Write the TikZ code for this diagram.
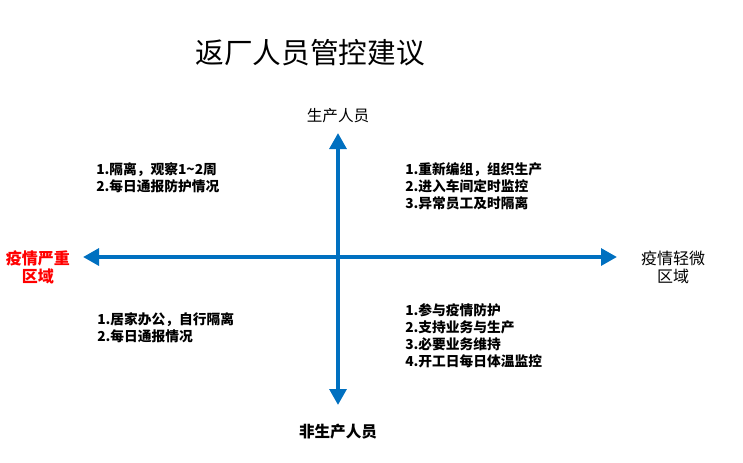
\documentclass[tikz,border=0pt]{standalone}
\usepackage{fontspec}
\setmainfont{Noto Sans CJK SC}
\usetikzlibrary{arrows.meta}
\definecolor{axisblue}{HTML}{0070C0}
\definecolor{warnred}{HTML}{FF0000}
\begin{document}
\begin{tikzpicture}[x=0.75pt,y=-0.75pt,
  axis/.style={draw=axisblue,line width=3.2pt,-{Triangle[length=12pt,width=12.5pt]}},
  blocktext/.style={font=\fontsize{10.3pt}{12.75pt}\selectfont\bfseries,align=left,anchor=north west,inner sep=0pt},
  axislabel/.style={font=\fontsize{11.7pt}{13.5pt}\selectfont,inner sep=0pt,align=center}]
\useasboundingbox (0,0) rectangle (743,462);
\fill[white] (0,0) rectangle (743,462);
\node[inner sep=0pt,font=\fontsize{21.5pt}{24pt}\selectfont] (title) at (310,53) {返厂人员管控建议};
\coordinate (center) at (338,257);
\coordinate (top) at (338,133);
\coordinate (bottom) at (338,405);
\coordinate (left) at (83,257);
\coordinate (right) at (617,257);
\draw[axis] (center) -- (top);
\draw[axis] (center) -- (bottom);
\draw[axis] (center) -- (left);
\draw[axis] (center) -- (right);
\node[axislabel] (prod) at (338,116) {生产人员};
\node[axislabel,font=\fontsize{11.7pt}{13.5pt}\selectfont\bfseries] (nonprod) at (338,432) {非生产人员};
\node[axislabel,text=warnred,font=\fontsize{12pt}{13.5pt}\selectfont\bfseries] (severe) at (38,267) {疫情严重\\区域};
\node[axislabel,font=\fontsize{12pt}{13.5pt}\selectfont] (mild) at (673,267) {疫情轻微\\区域};
\node[blocktext] (tl) at (96,162) {1.隔离，观察1\textasciitilde 2周\\2.每日通报防护情况};
\node[blocktext] (tr) at (405,162) {1.重新编组，组织生产\\2.进入车间定时监控\\3.异常员工及时隔离};
\node[blocktext] (bl) at (97,312) {1.居家办公，自行隔离\\2.每日通报情况};
\node[blocktext] (br) at (405,303) {1.参与疫情防护\\2.支持业务与生产\\3.必要业务维持\\4.开工日每日体温监控};
\end{tikzpicture}
\end{document}
